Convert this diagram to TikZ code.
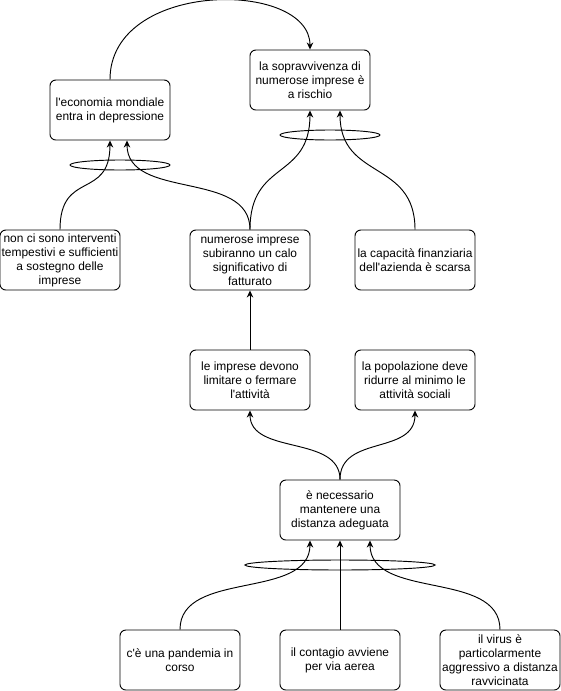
\documentclass[tikz,border=0pt]{standalone}
\usepackage{fontspec}
\usepackage{tikz}
\usetikzlibrary{
    arrows.meta,
    positioning
}
\newfontfamily\boxfont{Liberation Sans}

\begin{document}
\begin{tikzpicture}[x=0.03cm, y=-0.03cm, line width=0.8pt,
    concept/.style={draw, rounded corners=5pt, minimum width=3.6cm, minimum height=1.8cm,
        inner sep=0pt, align=center, font=\boxfont\fontsize{10.2}{11.9}\selectfont},
    link/.style={-{Stealth[length=6pt, width=5.5pt]}}]
    \useasboundingbox (0, 0) rectangle (561, 691);
    % boxes
    \node[concept] (econ) at (110, 110) {l'economia mondiale\\entra in depressione};
    \node[concept] (surv) at (310, 80) {la sopravvivenza di\\numerose imprese è\\a rischio};
    \node[concept] (aid) at (60, 260) {non ci sono interventi\\tempestivi e sufficienti\\a sostegno delle\\imprese};
    \node[concept] (loss) at (250, 260) {numerose imprese\\subiranno un calo\\significativo di\\fatturato};
    \node[concept] (cash) at (415, 260) {la capacità finanziaria\\dell'azienda è scarsa};
    \node[concept] (stop) at (250, 380) {le imprese devono\\limitare o fermare\\l'attività};
    \node[concept] (social) at (415, 380) {la popolazione deve\\ridurre al minimo le\\attività sociali};
    \node[concept] (dist) at (340, 510) {è necessario\\mantenere una\\distanza adeguata};
    \node[concept] (pand) at (180, 660) {c'è una pandemia in\\corso};
    \node[concept] (air) at (340, 660) {il contagio avviene\\per via aerea};
    \node[concept] (virus) at (500, 660) {il virus è\\particolarmente\\aggressivo a distanza\\ravvicinata};
    % links
    \draw[link] (econ.north) .. controls +(0, -100) and +(0, -70) .. (surv.north);
    \draw[link] (aid.north) .. controls +(0, -60) and +(0, 60) .. (econ.south);
    \draw[link] (loss.north) .. controls +(0, -60) and +(0, 60) .. ([xshift=0.51cm]econ.south);
    \draw[link] (loss.north) .. controls +(0, -70) and +(0, 70) .. (surv.south);
    \draw[link] (cash.north) .. controls +(0, -70) and +(0, 70) .. ([xshift=0.9cm]surv.south);
    \draw[link] (stop.north) -- (loss.south);
    \draw[link] (dist.north) .. controls +(0, -45) and +(0, 45) .. (stop.south);
    \draw[link] (dist.north) .. controls +(0, -45) and +(0, 45) .. (social.south);
    \draw[link] (pand.north) .. controls +(0, -60) and +(0, 60) .. ([xshift=-0.9cm]dist.south);
    \draw[link] (air.north) -- (dist.south);
    \draw[link] (virus.north) .. controls +(0, -60) and +(0, 60) .. ([xshift=0.9cm]dist.south);
    % and-rings
    \draw (120, 165) ellipse [x radius=50, y radius=5];
    \draw (330, 135) ellipse [x radius=50, y radius=5];
    \draw (340, 565) ellipse [x radius=95, y radius=5];
\end{tikzpicture}
\end{document}
